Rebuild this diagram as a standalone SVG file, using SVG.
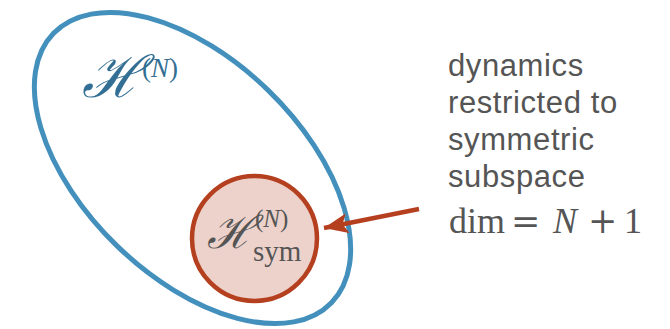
<svg xmlns="http://www.w3.org/2000/svg" width="670" height="329" viewBox="0 0 670 329">
<defs>
<style>
.big{fill:none;stroke:#4490bd;stroke-width:5}
.sym{fill:#ecd2cb;stroke:#b5401f;stroke-width:4.5}
.scr{font-family:"DejaVu Serif","Liberation Serif",serif;font-style:italic}
.ser{font-family:"Liberation Serif","Times New Roman",serif}
.note{font-family:"Liberation Sans",Arial,sans-serif;font-size:31px;letter-spacing:0.6px;fill:#555555}
.math{font-family:"Liberation Serif","Times New Roman",serif;font-size:36px;fill:#555555}
.op{font-family:"DejaVu Serif",serif;font-size:35px}
</style>
<marker id="ah" markerUnits="userSpaceOnUse" markerWidth="26" markerHeight="20" refX="24" refY="10" orient="auto">
<path d="M0,0 L24,10 L0,20 L5,10 Z" fill="#b5401f"/>
</marker>
</defs>
<rect width="670" height="329" fill="#ffffff"/>
<g id="hilbert">
<ellipse class="big" cx="192.5" cy="168" rx="193.5" ry="108.5" transform="rotate(44.1 192.5 168)"/>
<text class="scr" font-size="58" x="82" y="97" fill="#336f94">ℋ</text>
<text class="ser" font-size="27" x="142" y="77" fill="#336f94">(<tspan font-style="italic">N</tspan>)</text>
</g>
<g id="symmetric">
<circle class="sym" cx="254.5" cy="238.5" r="62.5"/>
<text class="scr" font-size="45" x="207" y="248" fill="#555555">ℋ</text>
<text class="ser" font-size="25" x="255" y="227" fill="#555555">(<tspan font-style="italic">N</tspan>)</text>
<text class="ser" font-size="29" x="253" y="261" fill="#555555">sym</text>
</g>
<g id="connectors">
<line x1="419" y1="209" x2="324" y2="228" stroke="#b5401f" stroke-width="4.5" marker-end="url(#ah)"/>
</g>
<g id="label">
<text class="note" x="448" y="76">dynamics</text>
<text class="note" x="448" y="113">restricted to</text>
<text class="note" x="448" y="150">symmetric</text>
<text class="note" x="448" y="187">subspace</text>
<text class="math" y="233"><tspan x="449">dim</tspan><tspan class="op" x="511">=</tspan><tspan x="553" font-style="italic">N</tspan><tspan class="op" x="588">+</tspan><tspan x="624">1</tspan></text>
</g>
</svg>
